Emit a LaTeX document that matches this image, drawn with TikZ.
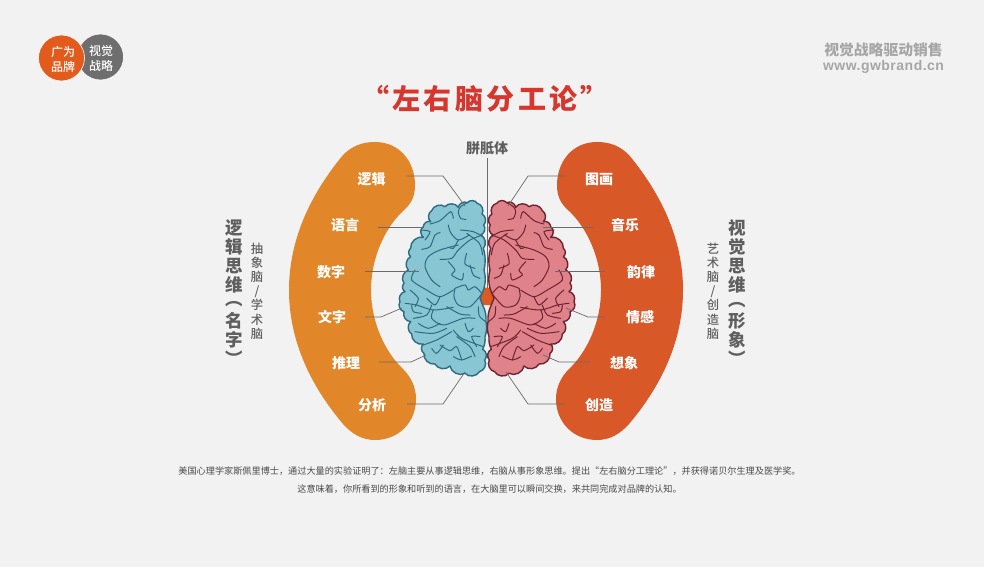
\documentclass[tikz,border=0pt]{standalone}
\usepackage{fontspec}
\setmainfont{Noto Sans CJK SC}
\newfontfamily\latinbold{Liberation Sans}
\newfontfamily\medcjk{Noto Sans CJK SC Medium}
\definecolor{bgc}{HTML}{F2F2F2}
\definecolor{orangeb}{HTML}{E1872A}
\definecolor{redb}{HTML}{D85828}
\definecolor{logoo}{HTML}{E25A1C}
\definecolor{logog}{HTML}{6E6E6E}
\definecolor{titlec}{HTML}{D5372E}
\definecolor{darkt}{HTML}{5F5F5F}
\definecolor{bodyc}{HTML}{4A4A4A}
\definecolor{lightt}{HTML}{A6A6A6}
\definecolor{leadc}{HTML}{6A6A6A}
\definecolor{bluef}{HTML}{88C6D3}
\definecolor{blues}{HTML}{2B6C80}
\definecolor{pinkf}{HTML}{E0828A}
\definecolor{pinks}{HTML}{6E2430}
\definecolor{corec}{HTML}{DD5A22}
\newcommand\fsz[2]{\fontsize{#1}{#2}\selectfont}
\newcommand\vopen{\smash{\raisebox{5pt}{︵}}}
\newcommand\vclose{\smash{︶}}
\tikzset{
 word/.style={inner sep=0pt,text=white,font=\fsz{14}{14}\bfseries},
 logotext/.style={inner sep=0pt,text=white,align=center,font=\fsz{12}{15}\medcjk},
 bigv/.style={inner sep=0pt,text=darkt,align=center,font=\fsz{17.5}{19.2}\bfseries},
 smallv/.style={inner sep=0pt,text=darkt,align=center,font=\fsz{12.3}{14.2}\medcjk},
 bodyt/.style={inner sep=0pt,text=bodyc,font=\fsz{9.15}{10}},
 leader/.style={draw=leadc,line width=.7pt},
 fold/.style={line width=1pt,line cap=round},
}
\newcommand\blobpath{(375,142) .. controls (400,142) and (415,162) .. (415,185) .. controls (415,197) and (411,204) .. (403,211) .. controls (385,228) and (371,258) .. (371,290) .. controls (371,322) and (385,352) .. (403,369) .. controls (411,377) and (416,387) .. (416,399) .. controls (416,422) and (399,440) .. (375,440) .. controls (362,440) and (352,434) .. (343,424) .. controls (310,385) and (289,340) .. (289,290) .. controls (289,240) and (310,195) .. (343,155) .. controls (352,146) and (362,142) .. (375,142) -- cycle}
\newcommand\brainoutline{(205,52) to[lobe] (232,38) to[lobe] (262,40) to[lobe] (276,72) to[lobe] (281,105) to[lobe] (272,135) to[lobe] (280,175) to[flat] (282,240) to[flat] (282,295) -- (270,325) -- (278,345) to[flat] (288,395) to[flat] (285,440) to[flat] (278,478) to[lobe] (284,510) to[lobe] (268,545) to[lobe] (225,550) to[lobe] (180,528) to[lobe] (135,522) to[lobe] (102,490) to[lobe] (100,462) to[lobe] (65,432) to[lobe] (62,395) to[lobe] (42,365) to[lobe] (30,335) to[lobe] (45,305) to[lobe] (42,280) to[lobe] (55,240) to[lobe] (62,200) to[lobe] (62,175) to[lobe] (100,142) to[lobe] (100,110) to[lobe] (122,95) to[lobe] (125,62) to[lobe] (165,50) to[lobe] (205,52)}
\newcommand\fc[1]{\draw[fold] plot[smooth] coordinates {#1};}
\newcommand\brainfolds{%
 \fc{(232,38) (212,50) (205,65) (212,85) (228,88)}
 \fc{(120,102) (150,92) (182,65) (190,85)}
 \fc{(95,178) (120,170) (135,135) (150,128)}
 \fc{(175,105) (182,128) (205,150) (238,135)}
 \fc{(212,120) (250,125) (278,140)}
 \fc{(205,165) (150,180) (115,200) (105,230) (125,270) (150,290)}
 \fc{(278,135) (240,150) (205,180) (185,205) (150,208)}
 \fc{(230,190) (225,222) (255,235)}
 \fc{(175,215) (195,240) (185,255) (215,270) (220,250)}
 \fc{(195,295) (192,320) (205,345) (240,350) (275,312)}
 \fc{(195,295) (225,285) (235,300) (255,290) (275,310)}
 \fc{(75,240) (65,270) (110,300) (150,320) (190,300)}
 \fc{(45,340) (80,345) (130,360) (190,352)}
 \fc{(70,385) (110,375) (125,345)}
 \fc{(130,360) (125,385) (160,405) (220,385) (255,385)}
 \fc{(170,350) (210,372) (240,375)}
 \fc{(225,400) (235,425) (250,415)}
 \fc{(287,395) (268,378) (265,350)}
 \fc{(190,420) (215,445) (280,470)}
 \fc{(100,465) (140,450) (185,425)}
 \fc{(125,475) (140,490) (160,465)}
 \fc{(150,465) (180,482) (200,470) (215,510)}
 \fc{(190,500) (215,510) (245,498)}
 \fc{(230,130) (268,160) (278,195)}
 \fc{(205,150) (190,175) (178,172)}
 \fc{(60,300) (85,325) (75,350)}
 \fc{(260,470) (245,440) (270,440)}
 \fc{(90,120) (120,125) (105,150)}
 \fc{(65,345) (70,365) (95,370)}
 \fc{(85,400) (115,415) (150,400)}
 \fc{(75,425) (130,430) (170,415)}
 \fc{(240,225) (250,255) (270,265)}
 \fc{(200,440) (240,470) (255,500)}
 \fc{(110,325) (135,345) (150,320)}
}
\begin{document}
\begin{tikzpicture}[x=1pt,y=-1pt]
\useasboundingbox (0,0) rectangle (984,567);
\fill[bgc] (0,0) rectangle (984,567);
% logo
\fill[logog,draw=white,line width=.6pt] (100.5,57) circle (23);
\fill[logoo,draw=white,line width=.6pt] (61.5,58) circle (23);
\node[logotext] (lg1) at (63,59) {广为\\品牌};
\node[logotext] (lg2) at (101,58) {视觉\\战略};
% top right
\node[inner sep=0pt,text=lightt,font=\fsz{14.8}{15}\bfseries] (slogan) at (883.5,50) {视觉战略驱动销售};
\node[inner sep=0pt,text=lightt,font=\latinbold\fsz{14}{15}\bfseries\addfontfeature{LetterSpace=3.5}] (site) at (883.5,67) {www.gwbrand.cn};
% title
\node[inner sep=0pt,text=titlec,font=\fsz{28}{30}\bfseries\addfontfeature{LetterSpace=12}] (title) at (485,99) {“左右脑分工论”};
% blobs
\fill[orangeb] \blobpath;
\begin{scope}[shift={(972,0)},x=-1pt]
\fill[redb] \blobpath;
\end{scope}
% corpus
\node[inner sep=0pt,text=darkt,font=\fsz{14}{14}\bfseries] (fang) at (487,148) {胼胝体};
\coordinate (corebottom) at (487,288);
\draw[leader] (fang.south) ++(0,3) -- (corebottom);
\fill[corec] (483,287.5) -- (491,287.5) -- (499,298) -- (493,305) -- (481,305) -- (475,298) -- cycle;
% brains
\begin{scope}[shift={(390,190)},x=.33333pt,y=-.33333pt,lobe/.style={bend left=55},flat/.style={bend left=14}]
\draw[fill=bluef,draw=blues,line width=1.4pt,line join=round] \brainoutline -- cycle;
\begin{scope}[blues]\brainfolds\end{scope}
\end{scope}
\begin{scope}[shift={(584,190)},x=-.33333pt,y=-.33333pt,lobe/.style={bend right=55},flat/.style={bend right=14}]
\draw[fill=pinkf,draw=pinks,line width=1.4pt,line join=round] \brainoutline -- cycle;
\begin{scope}[pinks]\brainfolds\end{scope}
\end{scope}
% labels
\node[word] (l1) at (371.5,179) {逻辑};
\node[word] (l2) at (345,225) {语言};
\node[word] (l3) at (331,272) {数字};
\node[word] (l4) at (332,317) {文字};
\node[word] (l5) at (346,363) {推理};
\node[word] (l6) at (372,405) {分析};
\node[word] (r1) at (599,179) {图画};
\node[word] (r2) at (625,225) {音乐};
\node[word] (r3) at (641,272) {韵律};
\node[word] (r4) at (640,317) {情感};
\node[word] (r5) at (624,363) {想象};
\node[word] (r6) at (599,405) {创造};
% leaders left
\coordinate (a1) at (407,176); \coordinate (a1b) at (443,176); \coordinate (a1c) at (465,206);
\coordinate (a2) at (378,227); \coordinate (a2c) at (424,227);
\coordinate (a3) at (365,271); \coordinate (a3c) at (419,271);
\coordinate (a4) at (365,317); \coordinate (a4b) at (381,317); \coordinate (a4c) at (402,308);
\coordinate (a5) at (379,362); \coordinate (a5b) at (411,362); \coordinate (a5c) at (426,355);
\coordinate (a6) at (407,404); \coordinate (a6b) at (443,404); \coordinate (a6c) at (465,372);
\draw[leader] (a1) -- (a1b) -- (a1c);
\draw[leader] (a2) -- (a2c);
\draw[leader] (a3) -- (a3c);
\draw[leader] (a4) -- (a4b) -- (a4c);
\draw[leader] (a5) -- (a5b) -- (a5c);
\draw[leader] (a6) -- (a6b) -- (a6c);
% leaders right
\coordinate (b1) at (565,176); \coordinate (b1b) at (528,176); \coordinate (b1c) at (508,206);
\coordinate (b2) at (593,227); \coordinate (b2c) at (543,227);
\coordinate (b3) at (605,271); \coordinate (b3c) at (555,271);
\coordinate (b4) at (605,317); \coordinate (b4b) at (588,317); \coordinate (b4c) at (566,308);
\coordinate (b5) at (591,362); \coordinate (b5b) at (559,362); \coordinate (b5c) at (543,355);
\coordinate (b6) at (565,404); \coordinate (b6b) at (528,404); \coordinate (b6c) at (506,372);
\draw[leader] (b1) -- (b1b) -- (b1c);
\draw[leader] (b2) -- (b2c);
\draw[leader] (b3) -- (b3c);
\draw[leader] (b4) -- (b4b) -- (b4c);
\draw[leader] (b5) -- (b5b) -- (b5c);
\draw[leader] (b6) -- (b6b) -- (b6c);
% side texts
\node[bigv] (lv) at (234,292.5) {逻\\辑\\思\\维\\\vopen\\[-3pt]名\\字\\\vclose};
\node[smallv] (ls) at (257,291) {抽\\象\\脑\\/\\学\\术\\脑};
\node[bigv] (rv) at (737,292.5) {视\\觉\\思\\维\\\vopen\\[-3pt]形\\象\\\vclose};
\node[smallv] (rs) at (713,291) {艺\\术\\脑\\/\\创\\造\\脑};
% body
\node[bodyt] (p1) at (489.5,471) {美国心理学家斯佩里博士，通过大量的实验证明了：左脑主要从事逻辑思维，右脑从事形象思维。提出“左右脑分工理论”，并获得诺贝尔生理及医学奖。};
\node[bodyt] (p2) at (489.5,489) {这意味着，你所看到的形象和听到的语言，在大脑里可以瞬间交换，来共同完成对品牌的认知。};
\end{tikzpicture}
\end{document}
